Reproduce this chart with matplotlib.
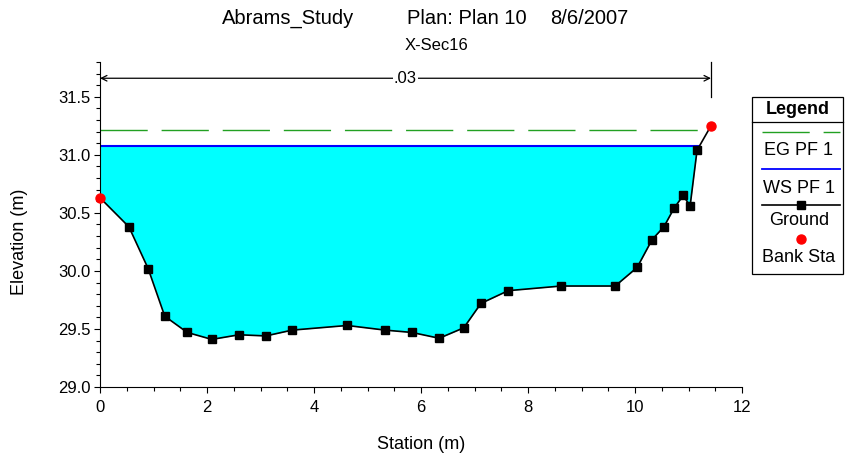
import matplotlib.pyplot as plt
import numpy as np
from matplotlib.lines import Line2D
from matplotlib.patches import Rectangle

plt.rcParams["font.family"] = ["Liberation Sans", "DejaVu Sans"]

# ground profile (station, elevation)
station = [0.0, 0.54, 0.90, 1.21, 1.63, 2.09, 2.60, 3.10, 3.59, 4.62, 5.33,
           5.83, 6.34, 6.80, 7.12, 7.63, 8.62, 9.63, 10.04, 10.32, 10.54,
           10.73, 10.90, 11.03, 11.16, 11.42]
elevation = [30.63, 30.38, 30.02, 29.61, 29.47, 29.41, 29.45, 29.44, 29.49,
             29.53, 29.49, 29.47, 29.42, 29.51, 29.72, 29.83, 29.87, 29.87,
             30.03, 30.27, 30.38, 30.54, 30.65, 30.56, 31.04, 31.25]
bank_sta = [0.0, 11.42]
bank_elev = [30.63, 31.25]
ws_elev = 31.08
eg_elev = 31.21
ws_end = 11.2
n_value = ".03"
yticks = [29.0, 29.5, 30.0, 30.5, 31.0, 31.5]

fig = plt.figure(figsize=(8.48, 4.58), dpi=100)
ax = fig.add_axes([100 / 848, 71 / 458, 642 / 848, 325 / 458])

x = np.array(station)
y = np.array(elevation)
ax.fill_between(x, y, ws_elev, where=y <= ws_elev, interpolate=True,
                color="#00ffff", lw=0, zorder=1)
ax.plot([0, ws_end], [ws_elev, ws_elev], color="#0000ff", lw=1.5, zorder=2)
ax.plot([0, ws_end], [eg_elev, eg_elev], color="#22a022", lw=1,
        dashes=(34, 10), zorder=2)
ax.plot(station, elevation, color="black", lw=1.2, zorder=3)
ax.plot(station[1:-1], elevation[1:-1], ls="none", marker="s", ms=5.5,
        color="black", zorder=4)
ax.plot(bank_sta, bank_elev, ls="none", marker="o", ms=6.5, color="red",
        zorder=5, clip_on=False)

# n-value arrow across the section
ax.annotate("", xy=(0, 31.66), xytext=(bank_sta[1], 31.66),
            arrowprops=dict(arrowstyle="<->", color="black", lw=0.9,
                            shrinkA=0, shrinkB=0))
ax.text(bank_sta[1] / 2, 31.66, n_value, ha="center", va="center",
        fontsize=12, bbox=dict(facecolor="white", edgecolor="none", pad=1))
ax.plot([bank_sta[1], bank_sta[1]], [31.5, 31.8], color="black", lw=0.9,
        clip_on=False)

ax.set_xlim(0, 12)
ax.set_ylim(29.0, 31.8)
ax.set_xticks(np.arange(0, 13, 2))
ax.set_xticks(np.arange(0, 12.01, 0.5), minor=True)
ax.set_yticks(yticks)
ax.set_yticks(np.arange(29.0, 31.81, 0.1), minor=True)
ax.set_yticklabels([f"{v:.1f}" for v in yticks])
for side in ["top", "right"]:
    ax.spines[side].set_visible(False)
for side in ["left", "bottom"]:
    ax.spines[side].set_linewidth(0.8)
ax.tick_params(labelsize=12, length=4.5, width=0.8, direction="out", pad=2)
ax.tick_params(axis="x", pad=5)
ax.tick_params(which="minor", length=3, width=0.8)
ax.set_xlabel("Station (m)", fontsize=13, labelpad=15)
ax.set_ylabel("Elevation (m)", fontsize=13)
ax.yaxis.set_label_coords(-0.112, 0.446)

W, H = 848, 458


def fx(px):
    return px / W


def fy(py):
    return 1 - py / H


# title pieces
fig.text(fx(222), fy(18.5), "Abrams_Study", ha="left", va="center", fontsize=14.5)
fig.text(fx(407), fy(18.5), "Plan: Plan 10", ha="left", va="center", fontsize=14.5)
fig.text(fx(550), fy(18.5), "8/6/2007", ha="left", va="center", fontsize=14.5)
fig.text(fx(436), fy(46), "X-Sec16", ha="center", va="center", fontsize=12)

# legend box drawn by hand
fig.add_artist(Rectangle((fx(752), fy(274)), fx(843) - fx(752),
                         fy(97) - fy(274), transform=fig.transFigure,
                         facecolor="white", edgecolor="black", lw=0.9))
fig.add_artist(Line2D([fx(752), fx(843)], [fy(122), fy(122)],
                      transform=fig.transFigure, color="black", lw=0.9))
fig.text(fx(798), fy(109), "Legend", ha="center", va="center",
         fontsize=13, fontweight="bold")
fig.add_artist(Line2D([fx(762), fx(840)], [fy(132), fy(132)],
                      transform=fig.transFigure, color="#22a022", lw=1,
                      dashes=(34, 10)))
fig.text(fx(799), fy(151), "EG PF 1", ha="center", va="center", fontsize=13)
fig.add_artist(Line2D([fx(762), fx(840)], [fy(169), fy(169)],
                      transform=fig.transFigure, color="#0000ff", lw=1.3))
fig.text(fx(799), fy(188), "WS PF 1", ha="center", va="center", fontsize=13)
fig.add_artist(Line2D([fx(762), fx(840)], [fy(205), fy(205)],
                      transform=fig.transFigure, color="black", lw=1.2))
fig.add_artist(Line2D([fx(801)], [fy(205)], transform=fig.transFigure,
                      marker="s", ms=5.5, color="black"))
fig.text(fx(799), fy(221), "Ground", ha="center", va="center", fontsize=13)
fig.add_artist(Line2D([fx(801)], [fy(239)], transform=fig.transFigure,
                      marker="o", ms=6.5, color="red"))
fig.text(fx(799), fy(257), "Bank Sta", ha="center", va="center", fontsize=13)

fig.savefig("out.png", dpi=100)
